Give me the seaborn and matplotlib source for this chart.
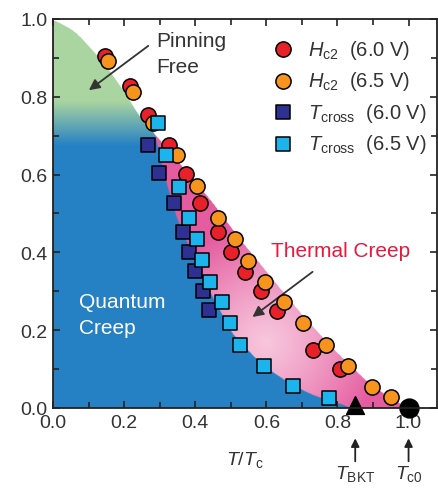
import numpy as np
import pandas as pd
import matplotlib
matplotlib.use("Agg")
import matplotlib.pyplot as plt
import seaborn as sns
from matplotlib.ticker import MultipleLocator
from matplotlib.transforms import blended_transform_factory

# ---------------- data ----------------
hc2_60_t = [0.146, 0.217, 0.268, 0.327, 0.375, 0.414, 0.465, 0.501, 0.541, 0.586, 0.631, 0.730, 0.808]
hc2_60_h = [0.905, 0.828, 0.753, 0.676, 0.602, 0.527, 0.452, 0.401, 0.350, 0.301, 0.249, 0.149, 0.100]
hc2_65_t = [0.155, 0.225, 0.282, 0.349, 0.406, 0.465, 0.513, 0.549, 0.597, 0.651, 0.704, 0.769, 0.831, 0.896, 0.952]
hc2_65_h = [0.892, 0.812, 0.733, 0.650, 0.571, 0.488, 0.434, 0.378, 0.324, 0.272, 0.219, 0.162, 0.108, 0.054, 0.028]
tcr_60_t = [0.268, 0.299, 0.341, 0.366, 0.383, 0.400, 0.423, 0.439]
tcr_60_h = [0.676, 0.604, 0.527, 0.452, 0.401, 0.352, 0.301, 0.252]
tcr_65_t = [0.296, 0.318, 0.355, 0.383, 0.406, 0.420, 0.442, 0.476, 0.499, 0.527, 0.594, 0.676, 0.775]
tcr_65_h = [0.733, 0.650, 0.568, 0.488, 0.434, 0.380, 0.324, 0.272, 0.219, 0.162, 0.108, 0.057, 0.026]

t_bkt = 0.85
t_c0 = 1.0

# phase boundaries
outer_x = [0.0, 0.062, 0.104, 0.146, 0.180, 0.211, 0.239, 0.340, 0.442, 0.530, 0.625, 0.704, 0.789, 0.885, 0.950, 1.0]
outer_y = [1.0, 0.969, 0.928, 0.884, 0.841, 0.799, 0.756, 0.647, 0.537, 0.430, 0.324, 0.237, 0.152, 0.067, 0.025, 0.0]
inner_y = [0.0, 0.010, 0.031, 0.067, 0.108, 0.150, 0.190, 0.250, 0.310, 0.370, 0.430, 0.490, 0.570, 0.650, 0.715]
inner_x = [0.850, 0.808, 0.732, 0.659, 0.592, 0.546, 0.505, 0.470, 0.435, 0.405, 0.375, 0.348, 0.322, 0.300, 0.284]

legend_labels = [r"$H_{\mathrm{c2}}$  (6.0 V)", r"$H_{\mathrm{c2}}$  (6.5 V)",
                 r"$T_{\mathrm{cross}}$  (6.0 V)", r"$T_{\mathrm{cross}}$  (6.5 V)"]

# ---------------- style ----------------
sns.set_style("ticks")
plt.rcParams["font.family"] = ["Liberation Sans", "DejaVu Sans"]
plt.rcParams["mathtext.fontset"] = "custom"
plt.rcParams["mathtext.rm"] = "Liberation Sans"
plt.rcParams["mathtext.it"] = "Liberation Sans:italic"
plt.rcParams["mathtext.bf"] = "Liberation Sans:bold"

fig = plt.figure(figsize=(4.38, 4.89), dpi=100)
ax = fig.add_axes([53 / 438, 80 / 489, 384 / 438, 389 / 489])
XMAX = 1.08
ax.set_xlim(0, XMAX)
ax.set_ylim(0, 1.0)

# ---------------- background phase regions ----------------
nx, ny = 760, 700
gx = np.linspace(0, XMAX, nx)
gy = np.linspace(0, 1.0, ny)
X, Y = np.meshgrid(gx, gy)


def smooth(v, w):
    pad = np.pad(v, w, mode="edge")
    k = np.ones(2 * w + 1) / (2 * w + 1)
    return np.convolve(pad, k, mode="valid")


oy_line = np.interp(gx, outer_x, outer_y)
oy_line = smooth(oy_line, 12)
oy_line[gx > 1.0] = -1.0
oy = oy_line[None, :]
ix_line = smooth(np.interp(gy, inner_y, inner_x), 10)
ix = ix_line[:, None]

img = np.ones((ny, nx, 4))
img[..., 3] = 0.0
under = Y <= oy
green = np.array([170, 213, 160]) / 255
blue = np.array([38, 129, 196]) / 255
tg = np.clip((Y - 0.675) / (0.79 - 0.675), 0, 1)[..., None]
gb = blue * (1 - tg) + green * tg
pink_dark = np.array([229, 92, 160]) / 255
pink_light = np.array([247, 198, 220]) / 255
d = np.sqrt(((X - 0.60) / 0.33) ** 2 + ((Y - 0.17) / 0.30) ** 2)
tp = np.clip(d, 0, 1)[..., None] ** 1.2
pk = pink_light * (1 - tp) + pink_dark * tp
is_pink = under & (Y <= 0.715) & (X >= ix)
is_gb = under & ~is_pink
img[is_gb, :3] = gb[is_gb]
img[is_gb, 3] = 1
img[is_pink, :3] = pk[is_pink]
img[is_pink, 3] = 1
ax.imshow(img, origin="lower", extent=[0, XMAX, 0, 1.0], aspect="auto",
          interpolation="bilinear", zorder=0)

# ---------------- data points ----------------
df_r = pd.DataFrame({"t": hc2_60_t, "h": hc2_60_h})
df_o = pd.DataFrame({"t": hc2_65_t, "h": hc2_65_h})
df_d = pd.DataFrame({"t": tcr_60_t, "h": tcr_60_h})
df_c = pd.DataFrame({"t": tcr_65_t, "h": tcr_65_h})

kw = dict(edgecolor="black", linewidth=1.1, clip_on=False)
sns.scatterplot(data=df_r, x="t", y="h", ax=ax, marker="o", s=120, color="#E8202A",
                label=legend_labels[0], zorder=3, **kw)
sns.scatterplot(data=df_o, x="t", y="h", ax=ax, marker="o", s=120, color="#F7941D",
                label=legend_labels[1], zorder=4, **kw)
sns.scatterplot(data=df_d, x="t", y="h", ax=ax, marker="s", s=105, color="#2E3192",
                label=legend_labels[2], zorder=5, **kw)
sns.scatterplot(data=df_c, x="t", y="h", ax=ax, marker="s", s=105, color="#1CB4EC",
                label=legend_labels[3], zorder=6, **kw)

ax.scatter([t_bkt], [0.008], marker="^", s=165, color="black", zorder=7, clip_on=False)
ax.scatter([t_c0], [0.0], marker="o", s=185, color="black", zorder=7, clip_on=False)

# ---------------- axes styling ----------------
ax.xaxis.set_major_locator(MultipleLocator(0.2))
ax.xaxis.set_minor_locator(MultipleLocator(0.1))
ax.yaxis.set_major_locator(MultipleLocator(0.2))
ax.yaxis.set_minor_locator(MultipleLocator(0.1))
ax.xaxis.set_major_formatter(matplotlib.ticker.FormatStrFormatter("%.1f"))
ax.yaxis.set_major_formatter(matplotlib.ticker.FormatStrFormatter("%.1f"))
ax.tick_params(which="both", direction="in", top=True, right=True, width=1.2,
               color="#222222", labelsize=14, labelcolor="#333333")
ax.tick_params(which="major", length=5, pad=4)
ax.tick_params(which="minor", length=4)
for sp in ax.spines.values():
    sp.set_linewidth(1.3)
    sp.set_color("#222222")
    sp.set_zorder(8)

ax.set_xlabel(r"$T/T_{\mathrm{c}}$", fontsize=14, color="#333333")
ax.set_ylabel("")
ax.xaxis.set_label_coords(0.5, -0.13)
ax.xaxis.label.set_va("center")

# ---------------- legend ----------------
leg = ax.legend(loc="upper left", bbox_to_anchor=(0.51, 0.988), frameon=False,
                fontsize=14.5, handletextpad=0.25, labelspacing=0.42, borderaxespad=0.3,
                labelcolor="#333333")

# ---------------- text annotations ----------------
ax.text(0.290, 0.946, "Pinning", fontsize=15, color="#333333", va="center", ha="left")
ax.text(0.290, 0.879, "Free", fontsize=15, color="#333333", va="center", ha="left")
ax.annotate("", xy=(0.101, 0.817), xytext=(0.268, 0.931),
            arrowprops=dict(arrowstyle="-|>", color="#333333", lw=1.3,
                            mutation_scale=16, shrinkA=0, shrinkB=0))
ax.text(0.612, 0.404, "Thermal Creep", fontsize=15, color="#E8193C", va="center", ha="left")
ax.annotate("", xy=(0.561, 0.234), xytext=(0.730, 0.350),
            arrowprops=dict(arrowstyle="-|>", color="#333333", lw=1.3,
                            mutation_scale=16, shrinkA=0, shrinkB=0))
ax.text(0.072, 0.275, "Quantum", fontsize=15, color="white", va="center", ha="left")
ax.text(0.072, 0.208, "Creep", fontsize=15, color="white", va="center", ha="left")

trans = blended_transform_factory(ax.transData, ax.transAxes)
for xv, lab in [(t_bkt, r"$T_{\mathrm{BKT}}$"), (t_c0, r"$T_{\mathrm{c0}}$")]:
    ax.annotate("", xy=(xv, -0.078), xytext=(xv, -0.137), xycoords=trans, textcoords=trans,
                arrowprops=dict(arrowstyle="-|>", color="#222222", lw=1.3,
                                mutation_scale=12, shrinkA=0, shrinkB=0))
    ax.text(xv, -0.167, lab, transform=trans, fontsize=14, color="#333333",
            ha="center", va="center")

fig.savefig("out.png", dpi=100)
